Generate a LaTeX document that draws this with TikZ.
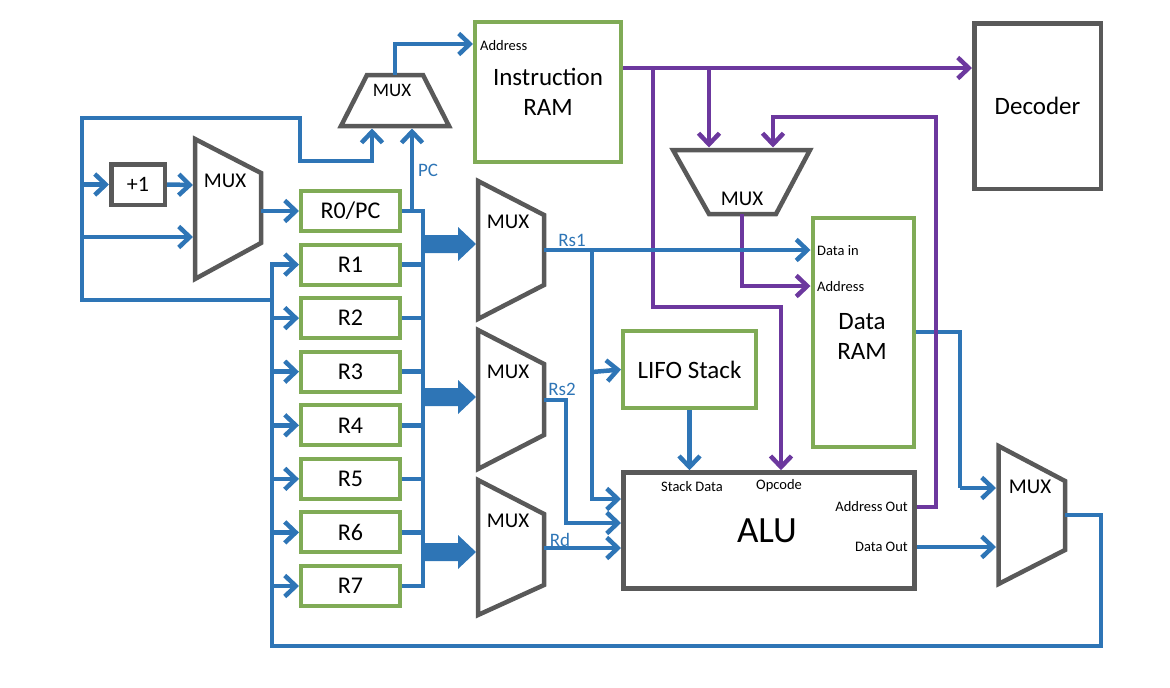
\documentclass[tikz,border=0pt]{standalone}
\usepackage{fontspec}
\setmainfont{Carlito}
\usetikzlibrary{arrows.meta}
\definecolor{bluC}{RGB}{46,117,182}
\definecolor{grnC}{RGB}{128,171,86}
\definecolor{gryC}{RGB}{89,89,89}
\definecolor{purC}{RGB}{108,56,158}
\newcommand\myfs[1]{\fontsize{#1pt}{#1pt}\selectfont}
\begin{document}
\begin{tikzpicture}[x=1pt,y=-1pt,
 bl/.style={draw=bluC, line width=4.5pt, line join=miter},
 pu/.style={draw=purC, line width=4.5pt, line join=miter},
 ar/.style={-{Straight Barb[length=11pt,width=21pt]}},
 reg/.style={draw=grnC, line width=4pt, minimum width=99pt, minimum height=40pt, inner sep=0pt, font=\myfs{24}},
 gbox/.style={draw=gryC, line width=4.5pt, inner sep=0pt, align=center},
 grbox/.style={draw=grnC, line width=4pt, inner sep=0pt, align=center},
 mux/.style={draw=gryC, line width=4.5pt, line join=miter},
 muxlbl/.style={inner sep=0pt, font=\myfs{21}},
 lbl/.style={inner sep=0pt, font=\myfs{14.5}},
 blbl/.style={inner sep=0pt, text=bluC, font=\myfs{19}},
]
\useasboundingbox (0,0) rectangle (1170,688);

% ---------- boxes ----------
\node[reg] (R0) at (350.5,211) {R0/PC};
\node[reg] (R1) at (350.5,264.6) {R1};
\node[reg] (R2) at (350.5,318.1) {R2};
\node[reg] (R3) at (350.5,371.7) {R3};
\node[reg] (R4) at (350.5,425.3) {R4};
\node[reg] (R5) at (350.5,478.9) {R5};
\node[reg] (R6) at (350.5,532.4) {R6};
\node[reg] (R7) at (350.5,586) {R7};

\node[gbox, minimum width=53.5pt, minimum height=40.5pt, font=\myfs{22}] (plus) at (138,184.5) {+1};
\node[grbox, minimum width=146pt, minimum height=140pt, font=\myfs{25}] (IRAM) at (548,92) {Instruction\\[5pt]RAM};
\node[gbox, minimum width=126.5pt, minimum height=165.5pt, font=\myfs{25}] (DEC) at (1037.5,106) {Decoder};
\node[grbox, minimum width=101pt, minimum height=229pt] (DRAM) at (863,332) {};
\node[font=\myfs{25}, align=center, inner sep=0pt] (DRAMt) at (862,336) {Data\\[5pt]RAM};
\node[grbox, minimum width=133pt, minimum height=77pt, font=\myfs{25}] (LIFO) at (689.5,369.5) {LIFO Stack};
\node[gbox, minimum width=291pt, minimum height=116pt] (ALU) at (768.75,530.5) {};
\node[inner sep=0pt, font=\myfs{37}] (ALUt) at (767,531) {ALU};

% small labels
\node[lbl, anchor=west] (ia) at (480,46) {Address};
\node[lbl, anchor=west] (di) at (817,251) {Data in};
\node[lbl, anchor=west] (da) at (817,287) {Address};
\node[lbl] (sd) at (692,487) {Stack Data};
\node[lbl] (oc) at (779,486) {Opcode};
\node[lbl, anchor=east] (ao) at (908,507) {Address Out};
\node[lbl, anchor=east] (dout) at (908,547) {Data Out};

% ---------- multiplexers ----------
\draw[mux] (195,139) -- (261,173) -- (261,243) -- (195,279) -- cycle;
\node[muxlbl] (m0) at (225,181) {MUX};
\draw[mux] (367,75) -- (423,75) -- (449,126) -- (341,126) -- cycle;
\node[muxlbl, font=\myfs{19}] (mt) at (392,90) {MUX};
\draw[mux] (478,181) -- (544,215) -- (544,285) -- (478,319) -- cycle;
\node[muxlbl] (m1) at (508,222) {MUX};
\draw[mux] (478,330) -- (544,364) -- (544,435) -- (478,469) -- cycle;
\node[muxlbl] (m2) at (508,372) {MUX};
\draw[mux] (478,480) -- (544,514) -- (544,585) -- (478,615) -- cycle;
\node[muxlbl] (m3) at (508,521) {MUX};
\draw[mux] (673,150) -- (810,150) -- (776,214) -- (709,214) -- cycle;
\node[muxlbl] (md) at (742,199) {MUX};
\draw[mux] (998.5,446) -- (1065,481) -- (1065,550) -- (998.5,584) -- cycle;
\node[muxlbl] (m4) at (1030,487) {MUX};

% ---------- coordinates ----------
\coordinate (m4out) at (1065,515);
\coordinate (fbR) at (1101,515);
\coordinate (fbBR) at (1101,646);
\coordinate (fbBot) at (272,646);
\coordinate (fbTop) at (272,264.6);
\coordinate (lj) at (272,300);
\coordinate (lbl1) at (82,300);
\coordinate (ltl) at (82,118);
\coordinate (ltr) at (300,118);
\coordinate (ld) at (300,161);
\coordinate (lr) at (372,161);
\coordinate (tmuxA) at (372,128.5);
\coordinate (tmuxB) at (412,128.5);
\coordinate (m0in1) at (193,185);
\coordinate (m0in2) at (193,237);
\coordinate (m0out) at (261,211);
\coordinate (bus) at (423,211);
\coordinate (busT) at (423,208.8);
\coordinate (busB) at (423,588.2);
\coordinate (tmout) at (395,75);
\coordinate (tmup) at (395,44);
\coordinate (m1out) at (544,250);
\coordinate (rs1d) at (592,250);
\coordinate (rs1b) at (592,499);
\coordinate (rs1s) at (592,372);
\coordinate (m2out) at (544,400);
\coordinate (rs2r) at (566,400);
\coordinate (rs2b) at (566,523);
\coordinate (m3out) at (544,548);
\coordinate (drout) at (960,332);
\coordinate (drdn) at (960,488);
\coordinate (m4in1) at (996,488);
\coordinate (m4in2) at (996,547);
% purple
\coordinate (irout) at (623,68);
\coordinate (pj1) at (653,68);
\coordinate (pj1d) at (653,307);
\coordinate (pj1r) at (781,307);
\coordinate (pj2) at (709,68);
\coordinate (mdin1) at (709,147.5);
\coordinate (aor) at (936,507);
\coordinate (aou) at (936,117);
\coordinate (aol) at (773,117);
\coordinate (mdin2) at (773,147.5);
\coordinate (mdout) at (742,214);
\coordinate (mdd) at (742,286);

% ---------- blue connectors (under purple) ----------
\draw[bl] (DRAM.east |- drout) -- (drout) -- (drdn);

% ---------- purple connectors ----------
\draw[pu,ar] (irout) -- (irout -| DEC.west);
\draw[pu,ar] (pj1) -- (pj1d) -- (pj1r) -- (pj1r |- ALU.north);
\draw[pu,ar] (pj2) -- (mdin1);
\draw[pu,ar] (ALU.east |- aor) -- (aor) -- (aou) -- (aol) -- (mdin2);
\draw[pu,ar] (mdout) -- (mdd) -- (mdd -| DRAM.west);

% ---------- blue connectors ----------
\draw[bl,ar] (drdn) -- (m4in1);
\draw[bl,ar] (m4out) -- (fbR) -- (fbBR) -- (fbBot) -- (fbTop) -- (R1.west);
\foreach \r in {R2,R3,R4,R5,R6,R7} \draw[bl,ar] (fbBot |- \r) -- (\r.west);
\draw[bl,ar] (lj) -- (lbl1) -- (ltl) -- (ltr) -- (ld) -- (lr) -- (tmuxA);
\draw[bl,ar] (ltl |- plus) -- (plus.west);
\draw[bl,ar] (plus.east) -- (m0in1);
\draw[bl,ar] (ltl |- m0in2) -- (m0in2);
\draw[bl,ar] (m0out) -- (R0.west);
\draw[bl] (R0.east) -- (bus);
\draw[bl,ar] (tmuxB |- R0) -- (tmuxB);
\node[blbl] (pc) at (428,170) {PC};
\draw[bl] (busT) -- (busB);
\foreach \r in {R1,R2,R3,R4,R5,R6,R7} \draw[bl] (\r.east) -- (bus |- \r);
\foreach \c in {244,397,552}
  \fill[bluC] (423,{\c-9}) -- (458,{\c-9}) -- (458,{\c-17}) -- (476,\c) -- (458,{\c+17}) -- (458,{\c+9}) -- (423,{\c+9}) -- cycle;
\draw[bl,ar] (tmout) -- (tmup) -- (tmup -| IRAM.west);
\draw[bl,ar] (m1out) -- (m1out -| DRAM.west);
\node[blbl] (rs1) at (572,240) {Rs1};
\draw[bl,ar] (rs1d) -- (rs1b) -- (rs1b -| ALU.west);
\draw[bl,ar] (rs1s) -- (LIFO.west);
\draw[bl,ar] (m2out) -- (rs2r) -- (rs2b) -- (rs2b -| ALU.west);
\node[blbl] (rs2) at (562,389) {Rs2};
\draw[bl,ar] (m3out) -- (m3out -| ALU.west);
\node[blbl] (rd) at (560,540) {Rd};
\draw[bl,ar] (LIFO.south) -- (LIFO.south |- ALU.north);
\draw[bl,ar] (ALU.east |- m4in2) -- (m4in2);
\end{tikzpicture}
\end{document}
